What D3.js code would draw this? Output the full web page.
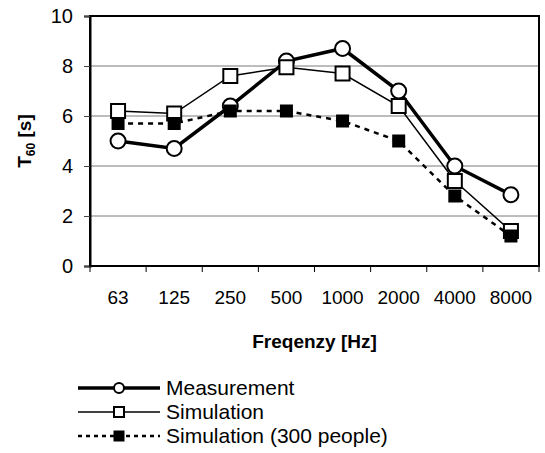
<!DOCTYPE html>
<html>
<head>
<meta charset="utf-8">
<script src="https://cdn.jsdelivr.net/npm/d3@7"></script>
<style>
  body { margin: 0; background: #fff; }
  svg { display: block; font-family: "Liberation Sans", Arial, sans-serif; }
</style>
</head>
<body>
<svg id="chart" width="545" height="453"></svg>
<script>
// ── data ─────────────────────────────────────────────
const frequencies   = ['63', '125', '250', '500', '1000', '2000', '4000', '8000'];
const measurement   = [5.0, 4.7, 6.4, 8.2, 8.7, 7.0, 4.0, 2.85];
const simulation    = [6.2, 6.1, 7.6, 7.95, 7.7, 6.4, 3.4, 1.4];
const simulation300 = [5.7, 5.7, 6.2, 6.2, 5.8, 5.0, 2.8, 1.2];
const yTicks        = [0, 2, 4, 6, 8, 10];
const seriesNames   = ['Measurement', 'Simulation', 'Simulation (300 people)'];

// ── layout ───────────────────────────────────────────
const margin = { left: 90, top: 16, right: 6, bottom: 187 };
const width  = 545 - margin.left - margin.right;
const height = 453 - margin.top - margin.bottom;

const svg = d3.select('#chart');
const g = svg.append('g').attr('transform', `translate(${margin.left},${margin.top})`);

const x = d3.scaleBand().domain(frequencies).range([0, width]);
const y = d3.scaleLinear().domain([0, 10]).range([height, 0]);

// gridlines
g.append('g')
  .selectAll('line')
  .data(yTicks.filter(d => d > 0 && d < 10))
  .join('line')
  .attr('x1', 0).attr('x2', width)
  .attr('y1', d => y(d)).attr('y2', d => y(d))
  .attr('stroke', '#7a7a7a').attr('stroke-width', 1);

// frame
g.append('rect')
  .attr('width', width).attr('height', height)
  .attr('fill', 'none').attr('stroke', '#000').attr('stroke-width', 2);

// y axis
const yAxis = g.append('g')
  .call(d3.axisLeft(y).tickValues(yTicks).tickSize(6).tickPadding(11));
yAxis.select('.domain').attr('stroke-width', 2);
yAxis.selectAll('.tick line').attr('stroke', '#444');
yAxis.selectAll('text').attr('font-size', 20).attr('font-family', '"Liberation Sans", Arial, sans-serif').attr('fill', '#000');

// x axis: ticks at band boundaries
const xAxis = g.append('g').attr('transform', `translate(0,${height})`);
xAxis.append('line')
  .attr('x1', 0).attr('x2', width)
  .attr('stroke', '#000').attr('stroke-width', 2);
xAxis.selectAll('line.tk')
  .data(d3.range(frequencies.length + 1))
  .join('line')
  .attr('class', 'tk')
  .attr('x1', i => i * x.step()).attr('x2', i => i * x.step())
  .attr('y1', 0).attr('y2', 6)
  .attr('stroke', '#000').attr('stroke-width', 1);
xAxis.selectAll('text')
  .data(frequencies)
  .join('text')
  .attr('x', d => x(d) + x.bandwidth() / 2)
  .attr('y', 38)
  .attr('text-anchor', 'middle')
  .attr('font-size', 19)
  .text(d => d);

// axis titles
g.append('text')
  .attr('x', width / 2).attr('y', height + 82)
  .attr('text-anchor', 'middle')
  .attr('font-size', 19).attr('font-weight', 'bold')
  .text('Freqenzy [Hz]');

const yTitle = g.append('text')
  .attr('transform', `translate(${31 - margin.left},${height / 2}) rotate(-90)`)
  .attr('text-anchor', 'middle')
  .attr('font-size', 19).attr('font-weight', 'bold');
yTitle.append('tspan').text('T');
yTitle.append('tspan').attr('font-size', 12).attr('dy', 4).text('60');
yTitle.append('tspan').attr('dy', -4).text(' [s]');

// series
const cx = i => x(frequencies[i]) + x.bandwidth() / 2;
const line = d3.line().x((d, i) => cx(i)).y(d => y(d));

const styles = [
  { data: measurement,   width: 3.5, dash: null,  marker: 'circle', fill: '#fff', size: 15 },
  { data: simulation,    width: 1.5, dash: null,  marker: 'square', fill: '#fff', size: 14 },
  { data: simulation300, width: 2.5, dash: '5,5', marker: 'square', fill: '#000', size: 11 }
];

function drawMarker(sel, s, size) {
  if (s.marker === 'circle') {
    sel.append('circle').attr('r', size / 2)
      .attr('fill', s.fill).attr('stroke', '#000').attr('stroke-width', 2);
  } else {
    sel.append('rect')
      .attr('x', -size / 2).attr('y', -size / 2)
      .attr('width', size).attr('height', size)
      .attr('fill', s.fill).attr('stroke', '#000').attr('stroke-width', 2);
  }
}

styles.forEach(s => {
  g.append('path')
    .datum(s.data)
    .attr('d', line)
    .attr('fill', 'none')
    .attr('stroke', '#000')
    .attr('stroke-width', s.width)
    .attr('stroke-dasharray', s.dash);
  g.append('g').selectAll('g')
    .data(s.data)
    .join('g')
    .attr('transform', (d, i) => `translate(${cx(i)},${y(d)})`)
    .each(function() { drawMarker(d3.select(this), s, s.size); });
});

// legend
const legend = svg.append('g').attr('transform', 'translate(78,388)');
const legendSizes = [10, 10, 9];
seriesNames.forEach((name, i) => {
  const s = styles[i];
  const row = legend.append('g').attr('transform', `translate(0,${i * 24})`);
  row.append('line')
    .attr('x1', 0).attr('x2', 82)
    .attr('stroke', '#000')
    .attr('stroke-width', s.width)
    .attr('stroke-dasharray', s.dash ? '4,4' : null);
  drawMarker(row.append('g').attr('transform', 'translate(41,0)'), s, legendSizes[i]);
  row.append('text')
    .attr('x', 88).attr('y', 7)
    .attr('font-size', 21)
    .text(name);
});
</script>
</body>
</html>
